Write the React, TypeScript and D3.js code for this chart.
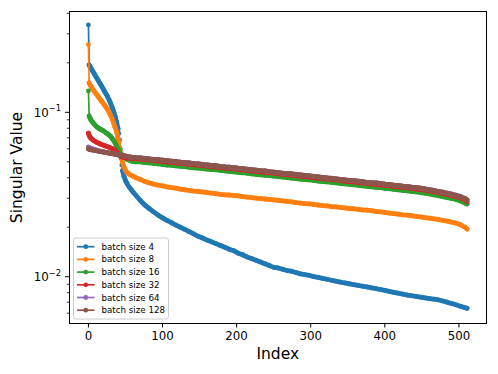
import React from "react";
import * as d3 from "d3";

const IDX = [
  0, 1, 2, 3, 4, 6, 8, 10, 12, 14, 16, 18, 20, 22, 24, 26, 28, 30, 32, 34, 36, 38, 40, 41, 42, 43, 44,
  45, 46, 48, 50, 52, 55, 58, 61, 64, 70, 76, 82, 88, 94, 100, 106, 112, 118, 124, 130, 136, 142, 148,
  154, 160, 166, 172, 178, 184, 190, 196, 202, 208, 214, 220, 226, 232, 238, 244, 250, 256, 262, 268,
  274, 280, 286, 292, 298, 304, 310, 316, 322, 328, 334, 340, 346, 352, 358, 364, 370, 376, 382, 388,
  394, 400, 406, 412, 418, 424, 430, 436, 442, 448, 454, 460, 466, 472, 478, 484, 490, 496, 502, 508, 511,
];

const BS4 = [
  0.34, 0.194, 0.1899, 0.1865, 0.1834, 0.1771, 0.171, 0.1651, 0.1595, 0.154, 0.1487, 0.1436, 0.1386,
  0.1334, 0.1287, 0.124, 0.1188, 0.1132, 0.107, 0.1012, 0.095, 0.0873, 0.0792, 0.0743, 0.0679, 0.0598,
  0.0527, 0.0478, 0.0442, 0.0407, 0.0385, 0.0369, 0.0351, 0.0337, 0.0324, 0.0313,
  0.0291, 0.0273, 0.026, 0.0248, 0.0237, 0.0228, 0.022, 0.0213, 0.0206, 0.02, 0.0194, 0.0188, 0.0182,
  0.0176, 0.0172, 0.0167, 0.0163, 0.0159, 0.0155, 0.0151, 0.0147, 0.0144, 0.0139, 0.0136, 0.0132,
  0.0129, 0.0126, 0.0123, 0.012, 0.0117, 0.0114, 0.0113, 0.0111, 0.0109, 0.0108, 0.0106, 0.0104,
  0.0103, 0.0102, 0.01, 0.0099, 0.00977, 0.00965, 0.00952, 0.00939, 0.00928, 0.00916, 0.00906,
  0.00896, 0.00885, 0.00875, 0.00866, 0.00856, 0.00847, 0.00836, 0.00825, 0.00814, 0.00804, 0.00794,
  0.00784, 0.00774, 0.00766, 0.00759, 0.00751, 0.00744, 0.00737, 0.0073, 0.00724, 0.00712, 0.007,
  0.00687, 0.00675, 0.00661, 0.00649, 0.00642,
];

const BS8 = [
  0.258, 0.1508, 0.1477, 0.1452, 0.1426, 0.1377, 0.1338, 0.1302, 0.1266, 0.1231, 0.1197, 0.1164,
  0.1132, 0.1101, 0.107, 0.1036, 0.0998, 0.0957, 0.0911, 0.0861, 0.0808, 0.0764, 0.0688, 0.0655,
  0.0619, 0.0586, 0.055, 0.052, 0.0495, 0.0465, 0.0444, 0.043, 0.042, 0.0413, 0.0407, 0.04,
  0.039, 0.038, 0.0372, 0.0366, 0.0361, 0.0357, 0.0352, 0.0348, 0.0346, 0.0341, 0.0338, 0.0335,
  0.0332, 0.033, 0.0328, 0.0325, 0.0322, 0.032, 0.0317, 0.0315, 0.0314, 0.0312, 0.031, 0.0307,
  0.0305, 0.0303, 0.0301, 0.0299, 0.0297, 0.0295, 0.0293, 0.0291, 0.0289, 0.0287, 0.0285, 0.0282,
  0.028, 0.0278, 0.0277, 0.0275, 0.0273, 0.0271, 0.027, 0.0267, 0.0266, 0.0264, 0.0262, 0.026,
  0.0259, 0.0257, 0.0255, 0.0254, 0.0252, 0.025, 0.0248, 0.0246, 0.0244, 0.0242, 0.024, 0.0238,
  0.0237, 0.0235, 0.0233, 0.0231, 0.0229, 0.0227, 0.0225, 0.0223, 0.022, 0.0218, 0.0215, 0.0212,
  0.0207, 0.02, 0.0195,
];

const BS16 = [
  0.1348, 0.095, 0.0924, 0.0904, 0.0889, 0.0867, 0.0845, 0.0825, 0.0811, 0.0798, 0.0789, 0.0781,
  0.0773, 0.0761, 0.0748, 0.0738, 0.0728, 0.0713, 0.0693, 0.0674, 0.0651, 0.0624, 0.0598, 0.0588,
  0.0578, 0.0569, 0.0561, 0.0553, 0.0546, 0.0535, 0.0526, 0.0518, 0.0511, 0.0505, 0.0501, 0.05,
  0.0499, 0.0495, 0.0492, 0.0489, 0.0485, 0.0482, 0.0478, 0.0476, 0.0473, 0.0469, 0.0467, 0.0463,
  0.046, 0.0458, 0.0455, 0.0451, 0.0449, 0.0446, 0.0443, 0.044, 0.0437, 0.0434, 0.0431, 0.0429,
  0.0426, 0.0423, 0.042, 0.0417, 0.0414, 0.0412, 0.0409, 0.0406, 0.0403, 0.0401, 0.0398, 0.0395,
  0.0392, 0.039, 0.0388, 0.0385, 0.0382, 0.0379, 0.0377, 0.0375, 0.0372, 0.0369, 0.0367, 0.0364,
  0.0362, 0.036, 0.0357, 0.0354, 0.0352, 0.035, 0.0348, 0.0345, 0.0343, 0.034, 0.0338, 0.0335,
  0.0333, 0.033, 0.0328, 0.0325, 0.0322, 0.0319, 0.0315, 0.0311, 0.0307, 0.0303, 0.0299, 0.0295,
  0.0289, 0.0281, 0.0277,
];

const BS32 = [
  0.0746, 0.0723, 0.0708, 0.0698, 0.069, 0.0679, 0.0669, 0.0661, 0.0654, 0.0648, 0.0642, 0.0636,
  0.0631, 0.0626, 0.0621, 0.0617, 0.0612, 0.0607, 0.0601, 0.0594, 0.0586, 0.0574, 0.0562, 0.0555,
  0.0549, 0.0544, 0.0539, 0.0536, 0.0534, 0.0531, 0.0529, 0.0527, 0.0526, 0.0525, 0.0524, 0.0523,
  0.052, 0.0516, 0.0513, 0.051, 0.0506, 0.0503, 0.0499, 0.0497, 0.0493, 0.049, 0.0487, 0.0483,
  0.048, 0.0477, 0.0474, 0.0471, 0.0468, 0.0465, 0.0462, 0.0458, 0.0456, 0.0453, 0.0449, 0.0447,
  0.0444, 0.0441, 0.0438, 0.0435, 0.0432, 0.0429, 0.0426, 0.0423, 0.042, 0.0418, 0.0415, 0.0412,
  0.0409, 0.0406, 0.0404, 0.0401, 0.0398, 0.0396, 0.0393, 0.0391, 0.0388, 0.0385, 0.0382, 0.0379,
  0.0377, 0.0374, 0.0372, 0.037, 0.0367, 0.0365, 0.0362, 0.036, 0.0358, 0.0355, 0.0352, 0.035,
  0.0348, 0.0345, 0.0342, 0.0339, 0.0336, 0.0333, 0.0329, 0.0325, 0.0321, 0.0317, 0.0312, 0.0307,
  0.0302, 0.0293, 0.0286,
];

const BS64 = [
  0.0614, 0.061, 0.0607, 0.0605, 0.0602, 0.0598, 0.0594, 0.059, 0.0586, 0.0583, 0.058, 0.0578,
  0.0575, 0.0572, 0.057, 0.0567, 0.0565, 0.0563, 0.056, 0.0558, 0.0556, 0.0553, 0.0552, 0.055,
  0.055, 0.0549, 0.0547, 0.0546, 0.0546, 0.0544, 0.0542, 0.0539, 0.0535, 0.0533, 0.0532, 0.053,
  0.0529, 0.0525, 0.0521, 0.0518, 0.0515, 0.0512, 0.0508, 0.0505, 0.0502, 0.0498, 0.0495, 0.0492,
  0.0488, 0.0485, 0.0482, 0.0478, 0.0476, 0.0473, 0.0469, 0.0466, 0.0464, 0.046, 0.0457, 0.0455,
  0.0451, 0.0448, 0.0445, 0.0442, 0.044, 0.0436, 0.0433, 0.043, 0.0427, 0.0425, 0.0422, 0.0419,
  0.0416, 0.0413, 0.0411, 0.0408, 0.0405, 0.0402, 0.0399, 0.0397, 0.0394, 0.0391, 0.0388, 0.0386,
  0.0384, 0.0381, 0.0378, 0.0375, 0.0373, 0.0372, 0.0369, 0.0366, 0.0364, 0.0361, 0.0359, 0.0356,
  0.0354, 0.0351, 0.0349, 0.0346, 0.0342, 0.0339, 0.0335, 0.033, 0.0327, 0.0322, 0.0318, 0.0313,
  0.0307, 0.0299, 0.0293,
];

const BS128 = [
  0.0598, 0.0596, 0.0595, 0.0593, 0.0591, 0.0589, 0.0586, 0.0584, 0.0582, 0.0579, 0.0577, 0.0575,
  0.0574, 0.0571, 0.0569, 0.0567, 0.0565, 0.0563, 0.056, 0.0558, 0.0556, 0.0553, 0.0552, 0.055,
  0.055, 0.0549, 0.0547, 0.0546, 0.0546, 0.0544, 0.0542, 0.0539, 0.0535, 0.0533, 0.0532, 0.053,
  0.0529, 0.0525, 0.0521, 0.0518, 0.0515, 0.0512, 0.0508, 0.0505, 0.0502, 0.0498, 0.0495, 0.0492,
  0.0488, 0.0485, 0.0482, 0.0478, 0.0476, 0.0473, 0.0469, 0.0466, 0.0464, 0.046, 0.0457, 0.0455,
  0.0451, 0.0448, 0.0445, 0.0442, 0.044, 0.0436, 0.0433, 0.043, 0.0427, 0.0425, 0.0422, 0.0419,
  0.0416, 0.0413, 0.0411, 0.0408, 0.0405, 0.0402, 0.0399, 0.0397, 0.0394, 0.0391, 0.0388, 0.0386,
  0.0384, 0.0381, 0.0378, 0.0375, 0.0373, 0.0372, 0.0369, 0.0366, 0.0364, 0.0361, 0.0359, 0.0356,
  0.0354, 0.0351, 0.0349, 0.0346, 0.0342, 0.0339, 0.0335, 0.033, 0.0327, 0.0322, 0.0318, 0.0313,
  0.0307, 0.0299, 0.0293,
];

const LABELS = ["batch size 4", "batch size 8", "batch size 16", "batch size 32", "batch size 64", "batch size 128"];
const COLORS = ["#1f77b4", "#ff7f0e", "#2ca02c", "#d62728", "#9467bd", "#8c564b"];

const X_TICKS = [0, 100, 200, 300, 400, 500];
const Y_MAJOR = [0.01, 0.1];
const Y_MAJOR_EXP = ["\u22122", "\u22121"];
const Y_MINOR = [0.006, 0.007, 0.008, 0.009, 0.02, 0.03, 0.04, 0.05, 0.06, 0.07, 0.08, 0.09, 0.2, 0.3, 0.4];

const W = 498;
const H = 374;
const FONT = "'DejaVu Sans', sans-serif";
const MARKER_R = 2.4;

export default function App() {
  const left = 69.5, right = 486, top = 12, bottom = 323;

  const x = d3.scaleLinear().domain([-25.55, 536.55]).range([left, right]);
  const y = d3.scaleLog().domain([0.00523, 0.4075]).range([bottom, top]);

  const series = [BS4, BS8, BS16, BS32, BS64, BS128].map((vals, i) => ({
    label: LABELS[i],
    color: COLORS[i],
    pts: vals.map((v, j) => [IDX[j], v] as [number, number]),
  }));

  const lineGen = d3
    .line<[number, number]>()
    .x((d) => x(d[0]))
    .y((d) => y(d[1]));

  // one marker per index makes the markers merge into a band wherever the
  // curve moves less than a marker per index step; draw those stretches as a band
  const bandSegments = (pts: [number, number][]) => {
    const out: [number, number][][] = [];
    let cur: [number, number][] = [];
    for (let j = 1; j < pts.length; j++) {
      const a = pts[j - 1], b = pts[j];
      const perStep = Math.abs(y(b[1]) - y(a[1])) / (b[0] - a[0]);
      if (perStep < MARKER_R * 1.6) {
        if (cur.length === 0) cur.push(a);
        cur.push(b);
      } else if (cur.length) {
        out.push(cur);
        cur = [];
      }
    }
    if (cur.length) out.push(cur);
    return out;
  };

  // legend geometry
  const lg = { x: 73.5, y: 238, w: 95, h: 81, row0: 246.7, step: 12.7 };

  return (
    <svg
      width={W}
      height={H}
      style={{ position: "absolute", left: 0, top: 0, background: "#fff" }}
      fontFamily={FONT}
    >
      <rect width={W} height={H} fill="#fff" />

      {/* lines + markers */}
      {series.map((s) => (
        <g key={s.label}>
          <path d={lineGen(s.pts) ?? ""} fill="none" stroke={s.color} strokeWidth={1.7} strokeLinejoin="round" />
          {bandSegments(s.pts).map((seg, k) => (
            <path
              key={k}
              d={lineGen(seg) ?? ""}
              fill="none"
              stroke={s.color}
              strokeWidth={MARKER_R * 2}
              strokeLinejoin="round"
              strokeLinecap="round"
            />
          ))}
          {s.pts.map((p, j) => (
            <circle key={j} cx={x(p[0])} cy={y(p[1])} r={MARKER_R} fill={s.color} />
          ))}
        </g>
      ))}

      {/* spines */}
      <rect x={left} y={11.5} width={right - left + 0.5} height={bottom - 11.5 + 0.5} fill="none" stroke="#000" strokeWidth={1} />

      {/* x ticks */}
      {X_TICKS.map((t) => (
        <g key={t}>
          <line x1={x(t)} x2={x(t)} y1={bottom + 0.5} y2={bottom + 4.5} stroke="#000" strokeWidth={1} />
          <text x={x(t)} y={340} textAnchor="middle" fontSize={11.8} fill="#000">
            {t}
          </text>
        </g>
      ))}
      <text x={(left + right) / 2} y={359.3} textAnchor="middle" fontSize={15.5} fill="#000">
        Index
      </text>

      {/* y ticks */}
      {Y_MINOR.map((t) => (
        <line key={t} x1={left - 2.7} x2={left} y1={y(t)} y2={y(t)} stroke="#000" strokeWidth={0.8} />
      ))}
      {Y_MAJOR.map((t, i) => (
        <g key={t}>
          <line x1={left - 4.5} x2={left} y1={y(t)} y2={y(t)} stroke="#000" strokeWidth={1} />
          <text x={61} y={y(t) + 4.3} textAnchor="end" fontSize={11.8} fill="#000">
            10
            <tspan dy={-5.5} fontSize={8.3}>
              {Y_MAJOR_EXP[i]}
            </tspan>
          </text>
        </g>
      ))}
      <text
        transform={`translate(22,${(top + bottom) / 2}) rotate(-90)`}
        textAnchor="middle"
        fontSize={15.5}
        fill="#000"
      >
        Singular Value
      </text>

      {/* legend */}
      <rect x={lg.x} y={lg.y} width={lg.w} height={lg.h} rx={2.5} fill="#fff" fillOpacity={0.8} stroke="#cccccc" strokeWidth={1} />
      {series.map((s, i) => {
        const cy = lg.row0 + i * lg.step;
        return (
          <g key={s.label}>
            <line x1={77} x2={94.5} y1={cy} y2={cy} stroke={s.color} strokeWidth={1.7} />
            <circle cx={85.75} cy={cy} r={MARKER_R} fill={s.color} />
            <text x={101.5} y={cy + 3} fontSize={8.7} fill="#000">
              {s.label}
            </text>
          </g>
        );
      })}
    </svg>
  );
}
